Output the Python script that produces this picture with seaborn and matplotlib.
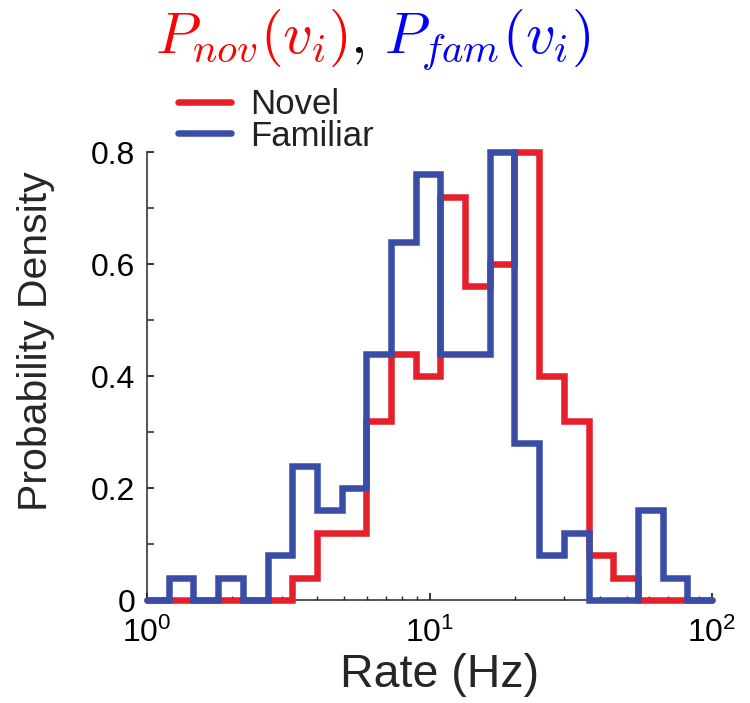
import numpy as np
import pandas as pd
import matplotlib
matplotlib.use("Agg")
import matplotlib.pyplot as plt
import seaborn as sns
from matplotlib.ticker import LogLocator, MultipleLocator, FixedLocator, FixedFormatter, NullFormatter

# ---------------- data ----------------
# bin edges in log10(Hz)
log_edges = np.r_[0.0, np.linspace(0.077, 2.0, 23)]
novel = [0, 0, 0, 0, 0, 0, 0.04, 0.12, 0.12, 0.32, 0.44, 0.40, 0.72, 0.56,
         0.60, 0.80, 0.40, 0.32, 0.08, 0.04, 0, 0, 0]
familiar = [0, 0.04, 0, 0.04, 0, 0.08, 0.24, 0.16, 0.20, 0.44, 0.64, 0.76,
            0.44, 0.44, 0.80, 0.28, 0.08, 0.12, 0, 0, 0.16, 0.04, 0]
conditions = ["Novel", "Familiar"]
yticks = [0, 0.2, 0.4, 0.6, 0.8]
ytick_labels = ["0", "0.2", "0.4", "0.6", "0.8"]
xlabel = "Rate (Hz)"
ylabel = "Probability Density"

RED = "#E5202B"
BLUE = "#3A4DA6"

rows = []
edges = 10 ** log_edges
for cond, vals in zip(conditions, [novel, familiar]):
    ys = list(vals) + [vals[-1]]
    for x, y in zip(edges, ys):
        rows.append({"rate": x, "density": y, "condition": cond})
df = pd.DataFrame(rows)

# ---------------- style ----------------
sns.set_style("ticks")
plt.rcParams["font.family"] = ["Liberation Sans", "DejaVu Sans"]
plt.rcParams["axes.linewidth"] = 1.1

fig = plt.figure(figsize=(7.5, 7.03), dpi=100)
ax = fig.add_axes([147 / 750, 1 - 600 / 703, (712 - 147) / 750, (600 - 152) / 703])

sns.lineplot(data=df, x="rate", y="density", hue="condition",
             hue_order=conditions, palette={"Novel": RED, "Familiar": BLUE},
             drawstyle="steps-post", linewidth=4.7, estimator=None, sort=False,
             ax=ax, clip_on=False, zorder=3, solid_joinstyle="miter")

ax.set_xscale("log")
ax.set_xlim(1, 100)
ax.set_ylim(0, 0.8)
sns.despine(ax=ax)

ax.xaxis.set_major_locator(LogLocator(base=10, numticks=10))
ax.xaxis.set_minor_locator(LogLocator(base=10, subs=np.arange(2, 10), numticks=20))
ax.xaxis.set_minor_formatter(NullFormatter())
ax.yaxis.set_major_locator(FixedLocator(yticks))
ax.yaxis.set_major_formatter(FixedFormatter(ytick_labels))
ax.yaxis.set_minor_locator(MultipleLocator(0.1))

ax.tick_params(axis="both", which="major", direction="in", length=5, width=1.1,
               labelsize=23, colors="black")
ax.tick_params(axis="y", which="major", pad=8.5)
ax.tick_params(axis="x", which="major", pad=13)
ax.tick_params(axis="y", which="minor", direction="in", length=5, width=1.1)
ax.tick_params(axis="x", which="minor", direction="in", length=3, width=1.0)

ax.set_xlabel(xlabel, fontsize=33.5)
ax.set_ylabel(ylabel, fontsize=29.5)
ax.xaxis.set_label_coords(0.518, -0.118)
ax.yaxis.set_label_coords(-0.163, 0.578)

sns.move_legend(ax, loc="upper left", bbox_to_anchor=(0.054, 1.143),
                title=None, frameon=False, fontsize=25, handlelength=1.55,
                handletextpad=0.55, labelspacing=-0.04, borderpad=0,
                borderaxespad=0)
for txt in ax.get_legend().get_texts():
    txt.set_color("#222222")

# ---------------- coloured math title ----------------
fig.canvas.draw()
r = fig.canvas.get_renderer()
fs = 42
yb = 1 - 53 / 703
pieces = [(r"$P_{nov}(v_i)$", "red"),
          (r"$,$", "black"),
          (r"$P_{fam}(v_i)$", "blue")]
gaps = [2 / 750, 20 / 750]
texts = []
for s, c in pieces:
    t = fig.text(0, yb, s, color=c, fontsize=fs, math_fontfamily="cm",
                 va="baseline", ha="left")
    texts.append(t)
widths = [t.get_window_extent(r).width / fig.bbox.width for t in texts]
total = sum(widths) + sum(gaps)
x = 372.5 / 750 - total / 2
for i, t in enumerate(texts):
    t.set_x(x)
    x += widths[i] + (gaps[i] if i < len(gaps) else 0)

fig.savefig("out.png", dpi=100)
